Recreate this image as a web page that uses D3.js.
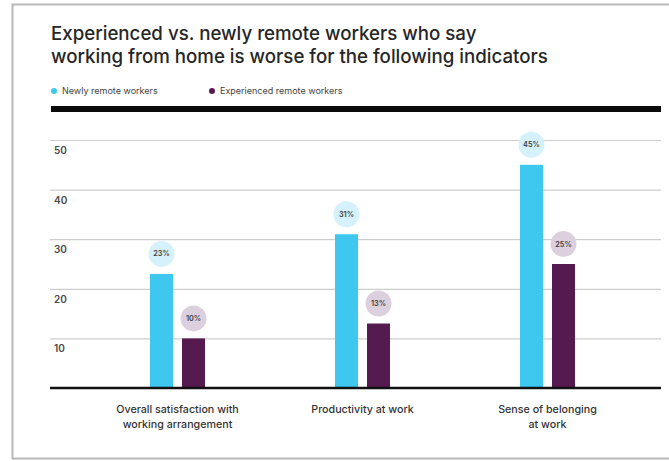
<!DOCTYPE html>
<html>
<head>
<meta charset="utf-8">
<script src="https://cdn.jsdelivr.net/npm/d3@7"></script>
<style>
  body { margin: 0; background: #fff; }
  svg { display: block; font-family: Inter, "Liberation Sans", Arial, sans-serif; }
</style>
</head>
<body>
<div id="chart"></div>
<script>

// data
const categories = [
  ["Overall satisfaction with", "working arrangement"],
  ["Productivity at work"],
  ["Sense of belonging", "at work"]
];
const seriesNames = ["Newly remote workers", "Experienced remote workers"];
const newlyValues = [23, 31, 45];
const experiencedValues = [10, 13, 25];
const yTicks = [10, 20, 30, 40, 50];

const titleLines = [
  "Experienced vs. newly remote workers who say",
  "working from home is worse for the following indicators"
];

const barColor = ["#3ec8f0", "#551a50"];
const bubbleColor = ["#d5f1fb", "#ddd0de"];

const W = 669, H = 461;
const left = 50, right = 661;

const svg = d3.select("#chart")
  .append("svg")
    .attr("width", W)
    .attr("height", H);

// frame round the card
svg.append("rect")
  .attr("x", 12.5).attr("y", 4.5)
  .attr("width", 700).attr("height", 454)
  .attr("fill", "#fff")
  .attr("stroke", "#b8b8b8")
  .attr("stroke-width", 2);

// title
svg.append("g")
  .selectAll("text")
  .data(titleLines)
  .join("text")
    .attr("x", 51)
    .attr("y", (d, i) => 40 + i * 23)
    .attr("font-size", "18.7px")
    .attr("font-weight", 500)
    .attr("fill", "#262626")
    .text(d => d);

// legend
const legend = svg.append("g")
  .selectAll("g")
  .data(seriesNames)
  .join("g")
    .attr("transform", (d, i) => `translate(${i == 0 ? 54 : 212},91)`);

legend.append("circle")
  .attr("r", 3)
  .attr("fill", (d, i) => barColor[i]);

legend.append("text")
  .attr("x", 8)
  .attr("dy", "0.35em")
  .attr("font-size", "9px")
  .attr("fill", "#444")
  .text(d => d);

// thick rule under the legend
svg.append("rect")
  .attr("x", 51).attr("y", 106)
  .attr("width", right - 51).attr("height", 6)
  .attr("fill", "#0a0a0a");

// scales
const y = d3.scaleLinear()
  .domain([0, 50])
  .range([388, 140]);

const x = d3.scaleBand()
  .domain(d3.range(categories.length))
  .range([85, 640])
  .padding(0);

const xSub = d3.scaleBand()
  .domain([0, 1])
  .range([x.bandwidth() / 2 - 27.5, x.bandwidth() / 2 + 27.5])
  .paddingInner(0.28125)
  .paddingOuter(0);

// grid + y labels
const gy = svg.append("g")
  .attr("transform", `translate(${left},0)`)
  .call(d3.axisRight(y).tickValues(yTicks).tickSize(right - left));

gy.select(".domain").remove();
gy.selectAll(".tick line")
  .attr("stroke", "#cdcdcd")
  .attr("stroke-width", 1.2);
gy.selectAll(".tick text")
  .attr("x", 4)
  .attr("dy", 13.5)
  .attr("font-size", "10px")
  .attr("font-weight", 600)
  .attr("font-family", "Inter, 'Liberation Sans', Arial, sans-serif")
  .attr("fill", "#4a4a4a");

// bars
const rows = categories.map((c, i) => [
  {s: 0, value: newlyValues[i]},
  {s: 1, value: experiencedValues[i]}
]);

const groups = svg.append("g")
  .selectAll("g")
  .data(rows)
  .join("g")
    .attr("transform", (d, i) => `translate(${x(i)},0)`);

groups.selectAll("rect")
  .data(d => d)
  .join("rect")
    .attr("x", d => xSub(d.s))
    .attr("y", d => y(d.value))
    .attr("width", xSub.bandwidth())
    .attr("height", d => y(0) - y(d.value))
    .attr("fill", d => barColor[d.s]);

groups.selectAll("circle")
  .data(d => d)
  .join("circle")
    .attr("cx", d => xSub(d.s) + xSub.bandwidth() / 2)
    .attr("cy", d => y(d.value) - 20)
    .attr("r", 13)
    .attr("fill", d => bubbleColor[d.s]);

groups.selectAll("text")
  .data(d => d)
  .join("text")
    .attr("x", d => xSub(d.s) + xSub.bandwidth() / 2)
    .attr("y", d => y(d.value) - 20)
    .attr("dy", "0.35em")
    .attr("text-anchor", "middle")
    .attr("font-size", "7.3px")
    .attr("font-weight", 600)
    .attr("fill", "#3a3a3a")
    .text(d => d.value + "%");

// baseline
svg.append("line")
  .attr("x1", left).attr("x2", right)
  .attr("y1", y(0)).attr("y2", y(0))
  .attr("stroke", "#111")
  .attr("stroke-width", 2.5);

// category labels
const gx = svg.append("g")
  .attr("transform", `translate(0,${y(0)})`)
  .call(d3.axisBottom(x).tickSize(0).tickFormat(""));

gx.select(".domain").remove();
gx.selectAll(".tick text")
  .attr("y", 25)
  .attr("dy", 0)
  .attr("font-size", "10.7px")
  .attr("font-weight", 500)
  .attr("font-family", "Inter, 'Liberation Sans', Arial, sans-serif")
  .attr("fill", "#333")
  .each(function(d) {
    d3.select(this).selectAll("tspan")
      .data(categories[d])
      .join("tspan")
        .attr("x", 0)
        .attr("dy", (t, j) => j == 0 ? 0 : 14.5)
        .text(t => t);
  });

</script>
</body>
</html>
